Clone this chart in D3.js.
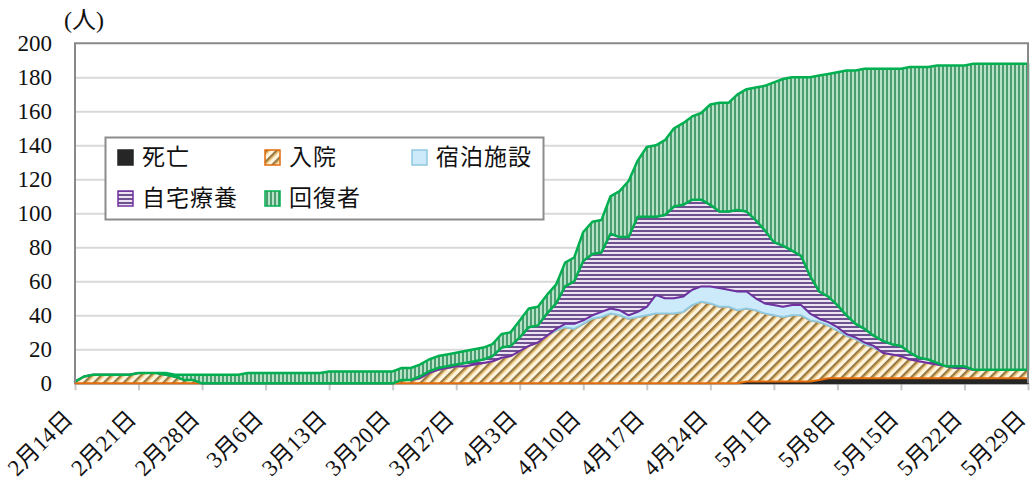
<!DOCTYPE html>
<html><head><meta charset="utf-8">
<script src="https://cdn.jsdelivr.net/npm/d3@7"></script>
<style>body{margin:0;background:#fff}svg{display:block}</style>
</head><body>
<svg id="c" width="1032" height="482"></svg>
<script>
// ---- data (daily, 2020-02-14 .. 2020-05-29) ----
const startDate = "2020-02-14";
const seriesNames = ["死亡", "入院", "宿泊施設", "自宅療養", "回復者"];
const death = [
  0,0,0,0,0,0,0,0,0,0, 0,0,0,0,0,0,0,0,0,0, 0,0,0,0,0,0,0,0,0,0,
  0,0,0,0,0,0,0,0,0,0, 0,0,0,0,0,0,0,0,0,0, 0,0,0,0,0,0,0,0,0,0,
  0,0,0,0,0,0,0,0,0,0, 0,0,0,0,1,1,1,1,1,1, 1,1,2,3,3,3,3,3,3,3,
  3,3,3,3,3,3,3,3,3,3, 3,3,3,3,3,3];
const hosp = [
  1,4,5,5,5,5,5,6,6,6, 5,4,2,2,0,0,0,0,0,0, 0,0,0,0,0,0,0,0,0,0,
  0,0,0,0,0,0,2,2,3,6, 8,9,10,10,11,12,13,15,16,19, 22,24,28,31,33,32,35,38,39,41,
  40,38,39,40,41,41,41,42,46,48, 47,45,45,43,43,42,40,39,38,39, 39,36,34,31,28,25,23,20,18,15,
  14,13,11,10,9,8,7,6,6,5, 5,5,5,5,5,5];
const hotel = [
  0,0,0,0,0,0,0,0,0,0, 0,0,0,0,0,0,0,0,0,0, 0,0,0,0,0,0,0,0,0,0,
  0,0,0,0,0,0,0,0,0,0, 0,0,0,0,0,0,0,0,0,0, 0,0,0,1,2,3,2,2,3,3,
  3,2,3,5,11,9,9,9,9,9, 10,11,10,11,10,7,6,6,6,6, 6,4,2,2,2,1,1,1,1,0,
  0,0,0,0,0,0,0,0,0,0, 0,0,0,0,0,0];
const home = [
  0,0,0,0,0,0,0,0,0,0, 0,0,0,0,0,0,0,0,0,0, 0,0,0,0,0,0,0,0,0,0,
  0,0,0,0,0,0,0,0,1,1, 1,1,1,2,2,2,3,6,6,8, 11,10,13,15,22,25,35,36,35,44,
  43,46,56,53,46,49,54,54,53,51, 48,45,46,48,47,46,43,37,36,32, 29,22,16,15,13,11,8,8,6,7,
  6,6,4,2,2,1,0,1,1,0, 0,0,0,0,0,0];
const recovered = [
  0,0,0,0,0,0,0,0,0,0, 1,1,3,3,5,5,5,5,5,6, 6,6,6,6,6,6,6,6,7,7,
  7,7,7,7,7,7,7,7,7,7, 7,7,7,7,7,7,7,8,8,10, 11,11,11,11,14,14,17,19,19,22,
  27,33,33,41,42,44,46,48,49,51, 59,64,64,68,72,78,85,94,98,102, 105,117,127,131,137,144,149,153,157,160,
  162,163,168,171,172,175,177,177,177,180, 180,180,180,180,180,180];
const tickLabels = ["2/14","2/21","2/28","3/6","3/13","3/20","3/27","4/3","4/10","4/17","4/24","5/1","5/8","5/15","5/22","5/29"];
const yTicks = [0,20,40,60,80,100,120,140,160,180,200];

// ---- build table ----
const parse = d3.timeParse("%Y-%m-%d");
const t0 = parse(startDate);
const keys = ["death","hosp","hotel","home","recovered"];
const cols = {death, hosp, hotel, home, recovered};
const rows = death.map((_, i) => {
  const r = {date: d3.timeDay.offset(t0, i)};
  keys.forEach(k => r[k] = cols[k][i]);
  return r;
});
const stacked = d3.stack().keys(keys)(rows);
const tickDates = tickLabels.map(s => { const [m, d] = s.split("/"); return new Date(2020, +m - 1, +d); });

// ---- layout ----
const L = 75, R = 1028, T = 43.3, B = 383.3;
const svg = d3.select("#c");
const x = d3.scaleTime().domain([t0, d3.timeDay.offset(t0, rows.length - 1)]).range([L, R]);
const y = d3.scaleLinear().domain([0, 200]).range([B, T]);

// patterns
const defs = svg.append("defs");
const pg = defs.append("pattern").attr("id","pGreen").attr("patternUnits","userSpaceOnUse").attr("width",4).attr("height",4);
pg.append("rect").attr("width",4).attr("height",4).attr("fill","#b4e3c8");
pg.append("rect").attr("x",2).attr("width",2).attr("height",4).attr("fill","#4c9c70");
const pp = defs.append("pattern").attr("id","pPurple").attr("patternUnits","userSpaceOnUse").attr("width",4).attr("height",4);
pp.append("rect").attr("width",4).attr("height",4).attr("fill","#ece2f2");
pp.append("rect").attr("y",2).attr("width",4).attr("height",2).attr("fill","#6e5290");
const po = defs.append("pattern").attr("id","pOrange").attr("patternUnits","userSpaceOnUse")
  .attr("width",7).attr("height",7).attr("patternTransform","rotate(45)");
po.append("rect").attr("width",7).attr("height",7).attr("fill","#fff4de");
po.append("rect").attr("width",2).attr("height",7).attr("fill","#957a4a");
po.append("rect").attr("x",2).attr("width",1.5).attr("height",7).attr("fill","#e2b462");

const fills = {death:"#262626", hosp:"url(#pOrange)", hotel:"#cdeafb", home:"url(#pPurple)", recovered:"url(#pGreen)"};
const strokes = {death:"#262626", hosp:"#e46c0a", hotel:"#8ec9df", home:"#7030a0", recovered:"#00b050"};

// gridlines
svg.append("g").attr("transform",`translate(${L},0)`)
  .call(d3.axisLeft(y).tickValues(yTicks.filter(v => v > 0 && v < 200)).tickSize(-(R - L)).tickFormat(""))
  .call(g => g.select(".domain").remove())
  .call(g => g.selectAll("line").attr("stroke","#d9d9d9").attr("stroke-width",2));

// x ticks (below axis)
svg.append("g").attr("transform",`translate(0,${B})`)
  .call(d3.axisBottom(x).tickValues(tickDates).tickSize(7).tickSizeOuter(0).tickFormat(""))
  .call(g => g.select(".domain").attr("stroke","#d9d9d9").attr("stroke-width",2))
  .call(g => g.selectAll("line").attr("stroke","#c8c8c8").attr("stroke-width",2));

// areas
const area = d3.area().x(d => x(d.data.date)).y0(d => y(d[0])).y1(d => y(d[1]));
svg.append("g").selectAll("path").data(stacked).join("path")
  .attr("d", area)
  .attr("fill", d => fills[d.key])
  .attr("stroke", d => strokes[d.key])
  .attr("stroke-width", d => d.key === "recovered" ? 2.5 : 2)
  .attr("stroke-linejoin","round");

// plot border
svg.append("path").attr("d",`M${L},${B}V${T}H${R}V${B}`).attr("fill","none").attr("stroke","#898989").attr("stroke-width",2);

// y labels
const serif = "'Liberation Serif','DejaVu Serif',serif";
svg.append("g").attr("transform",`translate(${L},0)`)
  .call(d3.axisLeft(y).tickValues(yTicks).tickSize(0).tickPadding(23))
  .call(g => g.select(".domain").remove())
  .call(g => g.selectAll("text").attr("font-family", serif).attr("font-size", 23).attr("fill","#111"));
svg.append("text").attr("x", 64).attr("y", 28).attr("font-family", serif + ",'Noto Sans CJK JP'").attr("font-size", 24).attr("fill","#111").text("(人)");

// x labels
const fmt = d => `${d.getMonth() + 1}月${d.getDate()}日`;
svg.append("g").selectAll("text").data(tickDates).join("text")
  .attr("transform", d => `translate(${x(d) - 1},${B + 37}) rotate(-45)`)
  .attr("text-anchor","end")
  .attr("font-family", "'Liberation Serif','Noto Sans CJK JP',serif")
  .attr("font-size", 23).attr("fill","#111")
  .text(fmt);

// legend
const lg = svg.append("g");
lg.append("rect").attr("x",105.5).attr("y",137.5).attr("width",438).attr("height",82).attr("fill","#fff").attr("stroke","#8c8c8c").attr("stroke-width",2);
const legPos = [[118,150],[265,150],[412,150],[118,191],[265,191]];
keys.forEach((k, i) => {
  const [lx, ly] = legPos[i];
  lg.append("rect").attr("x",lx).attr("y",ly).attr("width",15).attr("height",15)
    .attr("fill", fills[k]).attr("stroke", strokes[k]).attr("stroke-width",1.5);
  lg.append("text").attr("x", lx + 24).attr("y", ly + 15).attr("font-family","'Noto Sans CJK JP'")
    .attr("font-size",23).attr("letter-spacing",1).attr("fill","#111").text(seriesNames[i]);
});
</script>
</body></html>
